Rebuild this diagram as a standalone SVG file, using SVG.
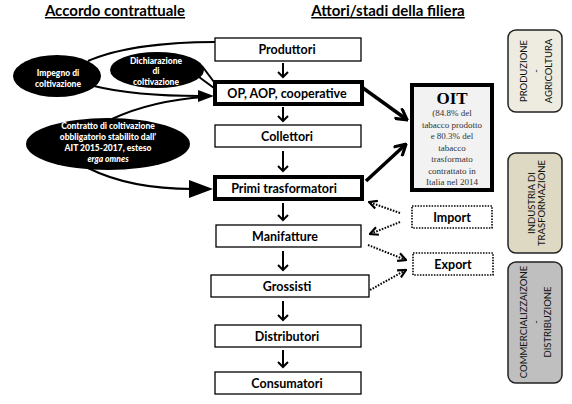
<svg xmlns="http://www.w3.org/2000/svg" width="572" height="404" viewBox="0 0 572 404">
<style>
text{font-family:Lato,"Open Sans","DejaVu Sans",sans-serif;}
.title{font-size:15px;font-weight:bold;text-decoration:underline;fill:#000;}
.box{fill:#fff;stroke:#000;stroke-width:1.3;}
.tbox{fill:#fff;stroke:#000;stroke-width:4;}
.lbl{font-size:12.5px;font-weight:bold;text-anchor:middle;fill:#000;}
.ell{fill:#000;}
.etx{font-size:8.5px;font-weight:900;fill:#fff;text-anchor:middle;}
.down{fill:none;stroke:#000;stroke-width:2;}
.curve{fill:none;stroke:#000;stroke-width:2;}
.thick{fill:none;stroke:#000;stroke-width:3.5;}
.dot{fill:none;stroke:#000;stroke-width:2;stroke-dasharray:1.6 1.4;}
.dbox{fill:#fff;stroke:#000;stroke-width:1.6;stroke-dasharray:1.5 1.3;}
.phase{stroke:#222;stroke-width:1.5;}
.ptx{font-size:9.5px;fill:#111;text-anchor:middle;}
.oit{font-family:"Liberation Serif","Times New Roman",serif;}
</style>
<defs>
<marker id="ah" viewBox="0 0 10 10" refX="8" refY="5" markerWidth="4" markerHeight="4" orient="auto" markerUnits="strokeWidth">
<path d="M1,0.5 L9,5 L1,9.5" fill="none" stroke="#000" stroke-width="2.2" stroke-linejoin="miter"/>
</marker>
<marker id="ad" viewBox="0 0 10 10" refX="9" refY="5" markerWidth="5" markerHeight="5" orient="auto" markerUnits="strokeWidth">
<path d="M1,1 L9,5 L1,9" fill="none" stroke="#000" stroke-width="2.2"/>
</marker>
</defs>
<rect width="572" height="404" fill="#fff"/>

<text class="title" x="115" y="16" text-anchor="middle">Accordo contrattuale</text>
<text class="title" x="388" y="16" text-anchor="middle">Attori/stadi della filiera</text>

<g id="connectors">
<path class="down" d="M283,63 V77 M278,72 L283,77 L288,72"/>
<path class="down" d="M283,107 V121 M278,116 L283,121 L288,116"/>
<path class="down" d="M283,151 V171 M278,166 L283,171 L288,166"/>
<path class="down" d="M283,203 V220 M278,215 L283,220 L288,215"/>
<path class="down" d="M283,251 V270 M278,265 L283,270 L288,265"/>
<path class="down" d="M283,301 V320 M278,315 L283,320 L288,315"/>
<path class="down" d="M283,350 V367 M278,362 L283,367 L288,362"/>

<path class="curve" d="M88,61 C120,47 170,42 215,42"/>
<path class="curve" d="M202,66 L214,82"/>
<path class="curve" d="M199,77 L214,88"/>
<path class="curve" d="M94,86 C130,95 170,96 200,96"/>
<path class="curve" d="M112,119 C140,106 175,99 205,97"/>
<polygon points="198,90 214,96 198,102" fill="#000"/>
<path class="curve" d="M88,168 C120,184 160,189 193,189"/>
<polygon points="189,180 213,189 189,198" fill="#000"/>

<path class="thick" d="M363,88 L406,119" marker-end="url(#ah)"/>
<path class="thick" d="M366,181 L405,145" marker-end="url(#ah)"/>

<path class="dot" d="M400,213 L369,202" marker-end="url(#ad)"/>
<path class="dot" d="M400,222 L370,234" marker-end="url(#ad)"/>
<path class="dot" d="M368,245 L406,260" marker-end="url(#ad)"/>
<path class="dot" d="M370,290 L406,270" marker-end="url(#ad)"/>
</g>

<g id="ell-impegno">
<ellipse class="ell" cx="57" cy="76" rx="44" ry="21"/>
<text class="etx" x="58" y="75.5">Impegno di</text>
<text class="etx" x="58" y="87">coltivazione</text>
</g>
<g id="ell-dichiarazione">
<ellipse class="ell" cx="157" cy="70" rx="47" ry="18"/>
<text class="etx" x="156" y="63.5">Dichiarazione</text>
<text class="etx" x="156" y="74">di</text>
<text class="etx" x="156" y="84.5">coltivazione</text>
</g>
<g id="ell-contratto">
<ellipse class="ell" cx="108" cy="144" rx="82" ry="26"/>
<text class="etx" x="108" y="128.5">Contratto di coltivazione</text>
<text class="etx" x="108" y="139.5">obbligatorio stabilito dall’</text>
<text class="etx" x="108" y="150.5">AIT 2015-2017, esteso</text>
<text class="etx" x="108" y="161.5" font-style="italic">erga omnes</text>
</g>

<g id="produttori"><rect class="box" x="215" y="38" width="146" height="23"/><text class="lbl" x="287" y="54">Produttori</text></g>
<g id="op"><rect class="tbox" x="215" y="82" width="147" height="22"/><text class="lbl" x="287" y="97.5">OP, AOP, cooperative</text></g>
<g id="collettori"><rect class="box" x="215" y="125" width="146" height="22"/><text class="lbl" x="287" y="140.5">Collettori</text></g>
<g id="primi"><rect class="tbox" x="215" y="177" width="147" height="22"/><text class="lbl" x="284" y="192.5">Primi trasformatori</text></g>
<g id="manifatture"><rect class="box" x="216" y="225" width="145" height="22"/><text class="lbl" x="285" y="240.5">Manifatture</text></g>
<g id="grossisti"><rect class="box" x="211" y="275" width="158" height="22"/><text class="lbl" x="287" y="290.5">Grossisti</text></g>
<g id="distributori"><rect class="box" x="215" y="325" width="146" height="22"/><text class="lbl" x="287" y="340.5">Distributori</text></g>
<g id="consumatori"><rect class="box" x="215" y="372" width="146" height="22"/><text class="lbl" x="287" y="387.5">Consumatori</text></g>

<g id="oit">
<rect x="412" y="85" width="80" height="105" fill="#f2f2f2" stroke="#000" stroke-width="4"/>
<text class="oit" x="452" y="104" text-anchor="middle" font-size="17" font-weight="bold">OIT</text>
<g class="oit" font-size="9" fill="#333" text-anchor="middle">
<text class="oit" x="452" y="116">(84.8% del</text>
<text class="oit" x="452" y="127.5">tabacco prodotto</text>
<text class="oit" x="452" y="139">e 80.3% del</text>
<text class="oit" x="452" y="150.5">tabacco</text>
<text class="oit" x="452" y="162">trasformato</text>
<text class="oit" x="452" y="173.5">contrattato in</text>
<text class="oit" x="452" y="185">Italia nel 2014</text>
</g>
</g>

<g id="import"><rect class="dbox" x="412" y="206" width="80" height="22"/><text class="lbl" x="452" y="221.5">Import</text></g>
<g id="export"><rect class="dbox" x="413" y="253" width="80" height="22"/><text class="lbl" x="453" y="268.5">Export</text></g>

<g id="phase-agricoltura">
<rect class="phase" x="508" y="30" width="54" height="82" rx="8" fill="#eeece1"/>
<text class="ptx" transform="translate(526.5,71) rotate(-90)">PRODUZIONE</text>
<text class="ptx" transform="translate(538.5,71) rotate(-90)">-</text>
<text class="ptx" transform="translate(551.5,71) rotate(-90)">AGRICOLTURA</text>
</g>
<g id="phase-industria">
<rect class="phase" x="508" y="153" width="54" height="100" rx="8" fill="#ddd9c3"/>
<text class="ptx" transform="translate(535,203) rotate(-90)">INDUSTRIA DI</text>
<text class="ptx" transform="translate(545,203) rotate(-90)">TRASFORMAZIONE</text>
</g>
<g id="phase-commercio">
<rect class="phase" x="508" y="262" width="54" height="121" rx="8" fill="#bfbfbf"/>
<text class="ptx" transform="translate(526.5,322) rotate(-90)">COMMERCIALIZZAIZONE</text>
<text class="ptx" transform="translate(538.5,322) rotate(-90)">-</text>
<text class="ptx" transform="translate(550.5,322) rotate(-90)">DISTRIBUZIONE</text>
</g>
</svg>
